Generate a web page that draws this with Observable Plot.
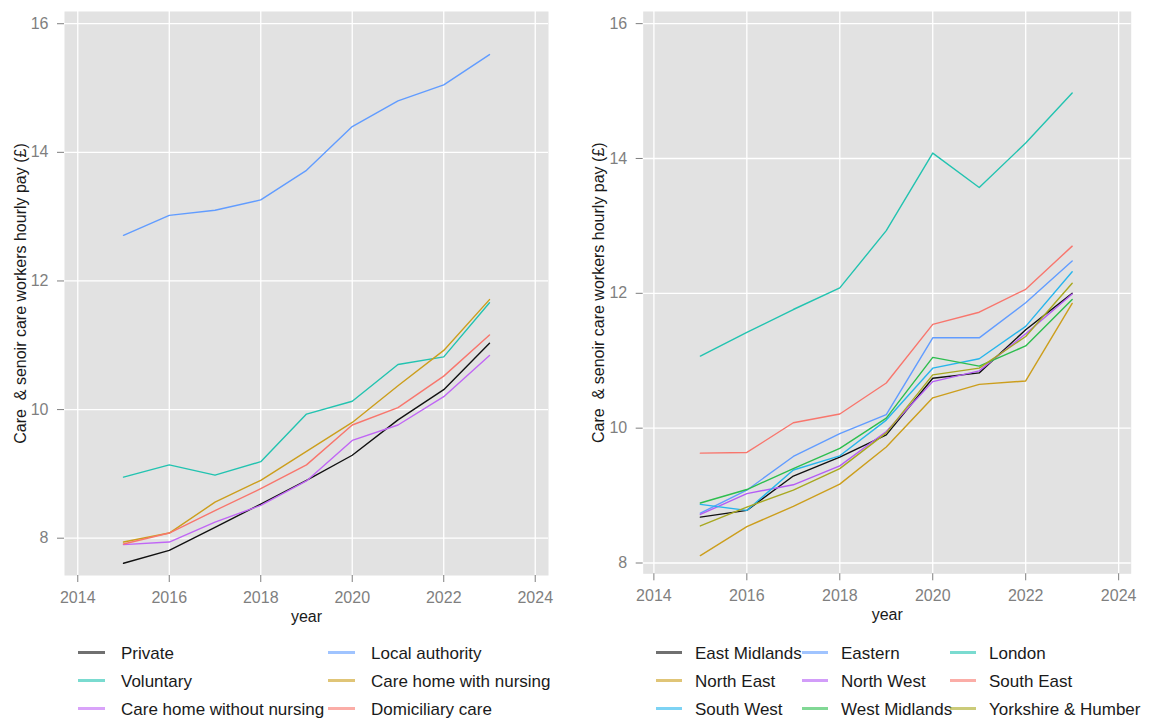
<!DOCTYPE html>
<html>
<head>
<meta charset="utf-8">
<script src="https://cdn.jsdelivr.net/npm/d3@7"></script>
<script src="https://cdn.jsdelivr.net/npm/@observablehq/plot@0.6"></script>
<style>
  body { margin: 0; background: #fff; font-family: "Liberation Sans", Arial, sans-serif; }
  #root { position: relative; width: 1157px; height: 719px; overflow: hidden; background: #fff; }
  .panel { position: absolute; top: 0; }
  .legend { position: absolute; display: grid; grid-auto-rows: 27.8px; }
  .item { display: flex; align-items: center; height: 27.8px; white-space: nowrap; }
  .key { display: inline-block; height: 3px; opacity: 0.6; flex: none; }
  .lab { font-size: 17px; line-height: 17px; color: #1a1a1a; position: relative; top: 1px; }
</style>
</head>
<body>
<div id="root">
  <div id="left" class="panel" style="left:0px"></div>
  <div id="right" class="panel" style="left:578px"></div>
  <div id="legLeft" class="legend" style="left:78px; top:638.8px; grid-template-columns: 250px 250px;"></div>
  <div id="legRight" class="legend" style="left:656px; top:638.8px; grid-template-columns: 146px 148px auto;"></div>
</div>
<script>
// ---------- data ----------
const years = [2015, 2016, 2017, 2018, 2019, 2020, 2021, 2022, 2023];
const xTicks = [2014, 2016, 2018, 2020, 2022, 2024];
const yTicks = [8, 10, 12, 14, 16];
const yTitle = "Care\u00a0 & senoir care workers hourly pay (£)";
const xTitle = "year";

// Left panel: sector / service type (legend order, row-major)
const sectorNames = ["Private", "Local authority", "Voluntary", "Care home with nursing", "Care home without nursing", "Domiciliary care"];
const sectorColors = ["#111111", "#619CFF", "#22C3B0", "#CC9E1C", "#C066F5", "#F8766D"];
const privateSector     = [7.61, 7.81, 8.17, 8.53, 8.90, 9.29, 9.84, 10.31, 11.03];
const localAuthority    = [12.71, 13.02, 13.10, 13.26, 13.72, 14.40, 14.80, 15.05, 15.52];
const voluntary         = [8.95, 9.14, 8.98, 9.19, 9.93, 10.13, 10.70, 10.82, 11.66];
const careHomeNursing   = [7.94, 8.08, 8.56, 8.90, 9.35, 9.80, 10.37, 10.92, 11.71];
const careHomeNoNursing = [7.90, 7.94, 8.25, 8.51, 8.89, 9.52, 9.76, 10.20, 10.84];
const domiciliaryCare   = [7.91, 8.08, 8.43, 8.77, 9.14, 9.76, 10.03, 10.52, 11.16];
const sectorSeries = [privateSector, localAuthority, voluntary, careHomeNursing, careHomeNoNursing, domiciliaryCare];

// Right panel: regions (legend order, row-major)
const regionNames = ["East Midlands", "Eastern", "London", "North East", "North West", "South East", "South West", "West Midlands", "Yorkshire & Humber"];
const regionColors = ["#111111", "#619CFF", "#22C3B0", "#CC9E1C", "#B45CF5", "#F8766D", "#27B5EC", "#2DBE4E", "#A8A820"];
const eastMidlands = [8.68, 8.78, 9.29, 9.57, 9.90, 10.74, 10.82, 11.46, 12.00];
const eastern      = [8.74, 9.08, 9.58, 9.92, 10.20, 11.34, 11.34, 11.86, 12.48];
const london       = [11.07, 11.42, 11.76, 12.08, 12.93, 14.08, 13.57, 14.23, 14.97];
const northEast    = [8.11, 8.54, 8.84, 9.17, 9.72, 10.45, 10.65, 10.70, 11.85];
const northWest    = [8.72, 9.03, 9.16, 9.44, 9.95, 10.69, 10.85, 11.40, 11.99];
const southEast    = [9.63, 9.64, 10.08, 10.21, 10.67, 11.54, 11.72, 12.06, 12.70];
const southWest    = [8.87, 8.78, 9.38, 9.59, 10.12, 10.89, 11.03, 11.51, 12.32];
const westMidlands = [8.89, 9.09, 9.40, 9.70, 10.15, 11.05, 10.92, 11.22, 11.91];
const yorkshire    = [8.55, 8.83, 9.08, 9.40, 9.93, 10.79, 10.89, 11.36, 12.15];
const regionSeries = [eastMidlands, eastern, london, northEast, northWest, southEast, southWest, westMidlands, yorkshire];

// ---------- build ----------
function rowsOf(names, series) {
  return names.flatMap((n, i) => series[i].map((v, j) => ({ series: n, year: years[j], value: v })));
}

function panel({ names, colors, series, width, mL, mR, mB, xDomain, yDomain }) {
  const data = rowsOf(names, series);
  const grey = "#7f7f7f";
  return Plot.plot({
    width, height: 630,
    marginLeft: mL, marginRight: mR, marginTop: 11, marginBottom: mB,
    style: { fontFamily: "Liberation Sans, Arial, sans-serif", fontSize: "16px", background: "transparent", color: "#1a1a1a" },
    x: { domain: xDomain },
    y: { domain: yDomain },
    color: { domain: names, range: colors },
    marks: [
      Plot.frame({ fill: "#e2e2e2", stroke: "none" }),
      Plot.gridX(xTicks, { stroke: "white", strokeOpacity: 1, strokeWidth: 1.3 }),
      Plot.gridY(yTicks, { stroke: "white", strokeOpacity: 1, strokeWidth: 1.3 }),
      Plot.axisX(xTicks, { tickSize: 7, tickPadding: 9, tickFormat: d3.format("d"), color: grey, fontSize: 16, label: null }),
      Plot.axisY(yTicks, { tickSize: 7, tickPadding: 9, tickFormat: d3.format("d"), color: grey, fontSize: 16, label: null }),
      Plot.line(data, { x: "year", y: "value", z: "series", stroke: "series", strokeWidth: 1.4 }),
      Plot.text([xTitle], { frameAnchor: "bottom", text: d => d, dy: 46, lineAnchor: "bottom", fontSize: 16, fill: "#1a1a1a" }),
      Plot.text([yTitle], { frameAnchor: "left", text: d => d, dx: -44, rotate: -90, textAnchor: "middle", lineAnchor: "middle", fontSize: 16, fill: "#1a1a1a" })
    ]
  });
}

document.getElementById("left").appendChild(panel({
  names: sectorNames, colors: sectorColors, series: sectorSeries,
  width: 578, mL: 64, mR: 30, mB: 55,
  xDomain: [2013.71, 2024.29], yDomain: [7.42, 16.19]
}));
document.getElementById("right").appendChild(panel({
  names: regionNames, colors: regionColors, series: regionSeries,
  width: 579, mL: 64.7, mR: 26.3, mB: 56.7,
  xDomain: [2013.77, 2024.27], yDomain: [7.84, 16.18]
}));

function legend(el, names, colors, keyW, gap) {
  names.forEach((n, i) => {
    const item = document.createElement("div");
    item.className = "item";
    const k = document.createElement("span");
    k.className = "key";
    k.style.width = keyW + "px";
    k.style.marginRight = gap + "px";
    k.style.background = colors[i];
    const t = document.createElement("span");
    t.className = "lab";
    t.textContent = n;
    item.appendChild(k); item.appendChild(t);
    el.appendChild(item);
  });
}
legend(document.getElementById("legLeft"), sectorNames, sectorColors, 27, 16);
legend(document.getElementById("legRight"), regionNames, regionColors, 26, 13);
</script>
</body>
</html>
